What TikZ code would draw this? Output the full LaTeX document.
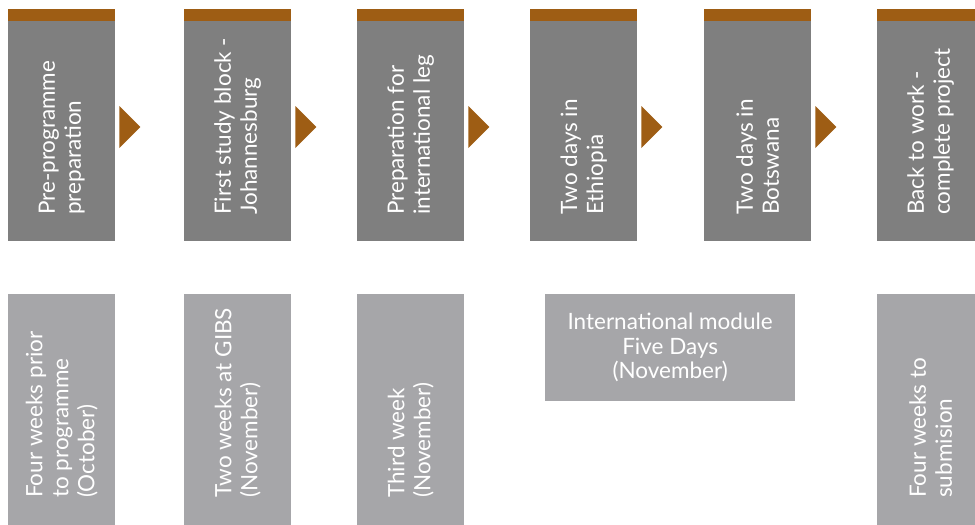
\documentclass[tikz,border=0pt]{standalone}
\usepackage{fontspec}
\setmainfont{Lato}
\usetikzlibrary{calc}
\definecolor{bandbrown}{RGB}{158,93,20}
\definecolor{topgrey}{RGB}{127,127,127}
\definecolor{lowgrey}{RGB}{166,166,169}
\tikzset{
  topbox/.style={fill=topgrey, draw=none, minimum width=107pt, minimum height=220pt, inner sep=0pt, anchor=north west},
  band/.style={fill=bandbrown, draw=none, minimum width=107pt, minimum height=12pt, inner sep=0pt, anchor=south west},
  lowbox/.style={fill=lowgrey, draw=none, minimum width=107pt, minimum height=240pt, inner sep=0pt, anchor=north west},
  widebox/.style={fill=lowgrey, draw=none, minimum width=250pt, minimum height=107pt, inner sep=0pt, anchor=north west},
  vtext/.style={rotate=90, anchor=west, align=left, text=white, inner sep=0pt, font=\fontsize{22.5}{26}\selectfont},
  htext/.style={align=center, text=white, inner sep=0pt, font=\fontsize{22.5}{24.5}\selectfont},
  chev/.style={fill=bandbrown, draw=none},
}
\begin{document}
\begin{tikzpicture}[x=1pt,y=-1pt]
\useasboundingbox (0,0) rectangle (975,525);
\clip (0,0) rectangle (975,525);
% top row
\foreach \i/\x in {1/8,2/184,3/357,4/530,5/704,6/877}{
  \node[topbox] (t\i) at (\x,21) {};
  \node[band] (b\i) at (t\i.north west) {};
}
\node[vtext] (tt1) at (t1.center |- 0,215) {Pre-programme\\preparation};
\node[vtext] (tt2) at (t2.center |- 0,215) {First study block -\\Johannesburg};
\node[vtext] (tt3) at (t3.center |- 0,215) {Preparation for\\international leg};
\node[vtext] (tt4) at (t4.center |- 0,215) {Two days in\\Ethiopia};
\node[vtext] (tt5) at (t5.center |- 0,215) {Two days in\\Botswana};
\node[vtext] (tt6) at (t6.center |- 0,215) {Back to work -\\complete project};
% chevrons
\foreach \i in {1,...,5}{
  \fill[chev] ($(t\i.north east)+(4,85)$) -- ($(t\i.north east)+(25,106)$) -- ($(t\i.north east)+(4,127)$) -- cycle;
}
% bottom row
\node[lowbox] (l1) at (8,294) {};
\node[lowbox] (l2) at (184,294) {};
\node[lowbox] (l3) at (357,294) {};
\node[widebox] (l4) at (545,294) {};
\node[lowbox] (l6) at (877,294) {};
\node[vtext] (lt1) at (l1.center |- 0,498) {Four weeks prior\\to programme\\(October)};
\node[vtext] (lt2) at (l2.center |- 0,498) {Two weeks at GIBS\\(November)};
\node[vtext] (lt3) at (l3.center |- 0,498) {Third week\\(November)};
\node[htext] (lt4) at (l4.center) {International module\\Five Days\\(November)};
\node[vtext] (lt6) at (l6.center |- 0,498) {Four weeks to\\submision};
\end{tikzpicture}
\end{document}
